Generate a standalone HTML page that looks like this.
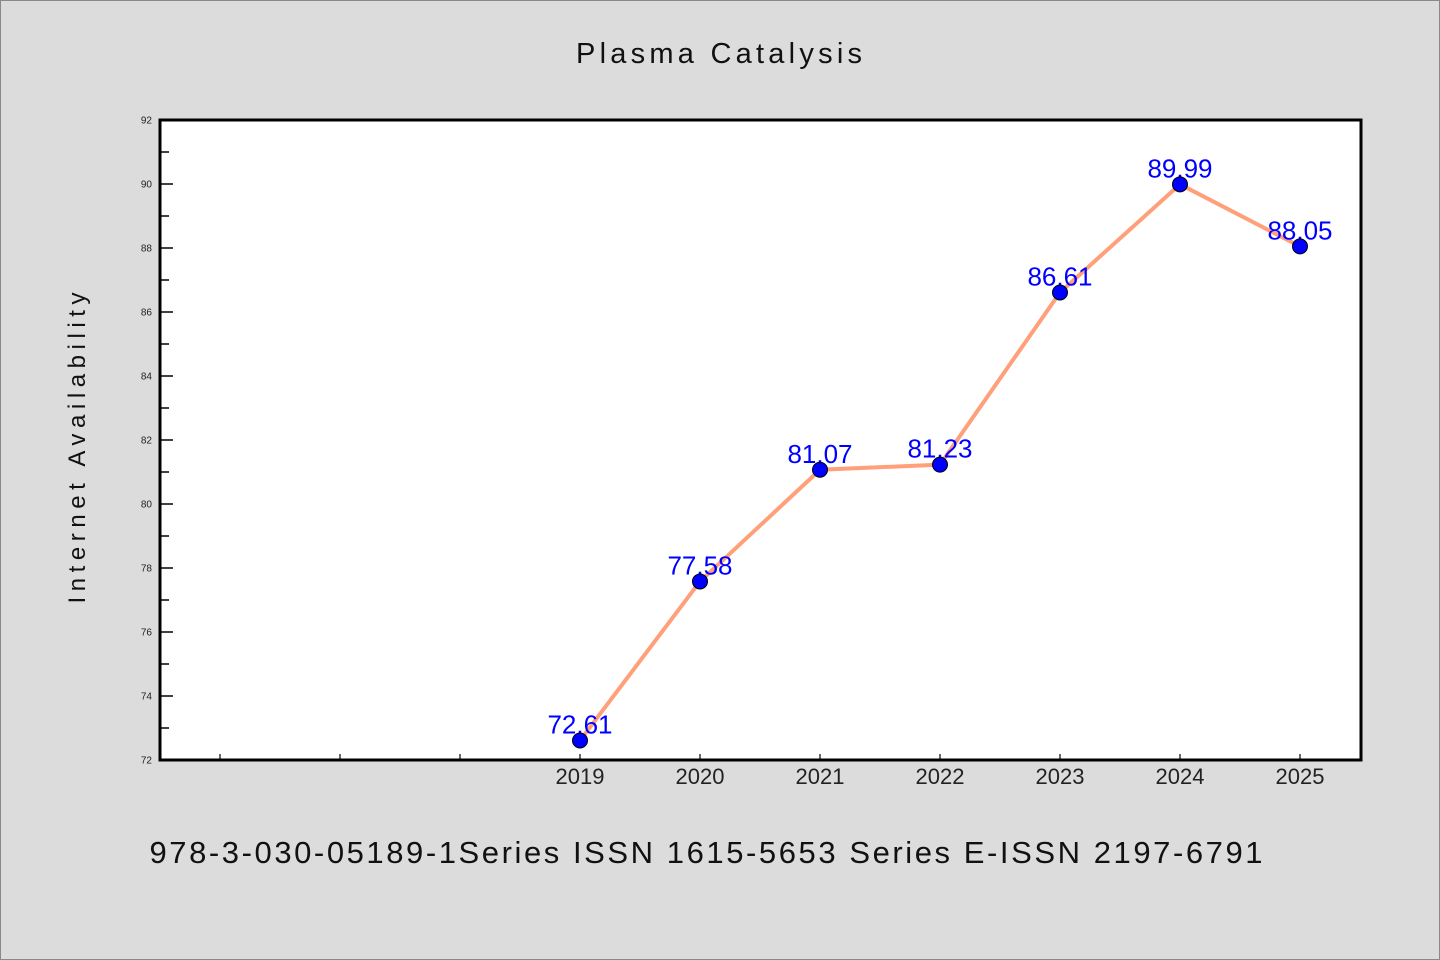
<!DOCTYPE html>
<html><head><meta charset="utf-8"><style>
body{margin:0;background:#dcdcdc;}
svg{display:block;font-family:"WenQuanYi Zen Hei","Liberation Sans",sans-serif;}
</style></head><body>
<svg id="chart" width="1440" height="960">
<rect x="0.5" y="0.5" width="1439" height="959" fill="#dcdcdc" stroke="#888"/>
<text x="719" y="63" font-size="29" text-anchor="middle" textLength="286" fill="#111">Plasma Catalysis</text>
<rect x="160" y="120" width="1201" height="640" fill="#fff" stroke="#000" stroke-width="3"/>
<text transform="translate(85,448) rotate(-90)" font-size="24" text-anchor="middle" textLength="311" fill="#111">Internet Availability</text>
<text x="706" y="863" font-size="31" text-anchor="middle" textLength="1113" fill="#111">978-3-030-05189-1Series ISSN 1615-5653 Series E-ISSN 2197-6791</text>
<g id="axes"></g>
<g id="marks"></g>
</svg>
<script>
const years=[2019,2020,2021,2022,2023,2024,2025];
const values=[72.61,77.58,81.07,81.23,86.61,89.99,88.05];
const labels=["72.61","77.58","81.07","81.23","86.61","89.99","88.05"];
const yTicks=[72,74,76,78,80,82,84,86,88,90,92];
const xTickYears=[2016,2017,2018,2019,2020,2021,2022,2023,2024,2025];
const NS="http://www.w3.org/2000/svg";
function x(v){return 160+(v-2015.5)*120;}
function y(v){return 760-(v-72)*32;}
function mk(t,a,p){const e=document.createElementNS(NS,t);for(const k in a)e.setAttribute(k,a[k]);p.appendChild(e);return e;}
const ax=document.getElementById('axes'),mg=document.getElementById('marks');
for(let v=73;v<92;v+=2){const l=mk('line',{x1:161,x2:169,y1:y(v),y2:y(v),stroke:'#000','stroke-width':1.5},ax);

}
yTicks.forEach(v=>{const l=mk('line',{x1:161,x2:173,y1:y(v),y2:y(v),stroke:'#000','stroke-width':1.5},ax);


const t=mk('text',{x:152,y:y(v)+3.5,'font-size':10,'text-anchor':'end',fill:'#222'},ax);t.textContent=v;

});
xTickYears.forEach(v=>{const l=mk('line',{x1:x(v),x2:x(v),y1:759,y2:754,stroke:'#000','stroke-width':1.2},ax);

});
years.forEach(v=>{const t=mk('text',{x:x(v),y:784,'font-size':22,'text-anchor':'middle',fill:'#222'},ax);t.textContent=v;

});
const pl=mk('polyline',{points:years.map((v,i)=>x(v)+','+y(values[i])).join(' '),fill:'none',stroke:'#ffa07a','stroke-width':4},mg);


years.forEach((v,i)=>{const t=mk('text',{x:x(v),y:y(values[i])-7,'font-size':26,'text-anchor':'middle',fill:'#0000ff'},mg);t.textContent=labels[i];

});
years.forEach((v,i)=>{const c=mk('circle',{cx:x(v),cy:y(values[i]),r:7.5,fill:'#0000ff',stroke:'#000','stroke-width':1},mg);

});
</script>
</body></html>
